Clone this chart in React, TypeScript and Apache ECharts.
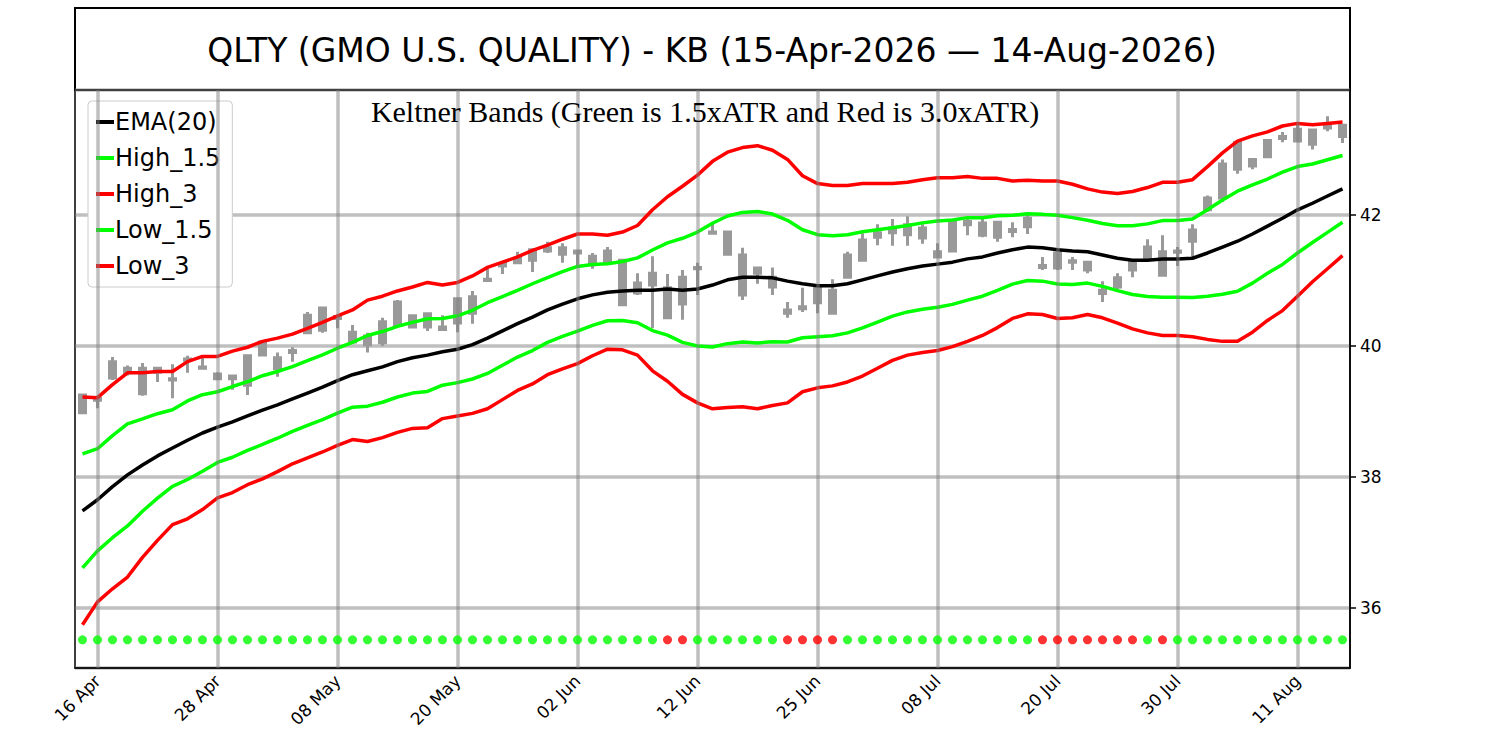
import { useRef, useEffect } from 'react';
import * as echarts from 'echarts';

const dates = [
  '15 Apr', '16 Apr', '17 Apr', '20 Apr', '21 Apr', '22 Apr', '23 Apr', '24 Apr', '27 Apr', '28 Apr', '29 Apr', '30 Apr',
  '01 May', '04 May', '05 May', '06 May', '07 May', '08 May', '11 May', '12 May', '13 May', '14 May', '15 May', '18 May',
  '19 May', '20 May', '21 May', '22 May', '26 May', '27 May', '28 May', '29 May',
  '01 Jun', '02 Jun', '03 Jun', '04 Jun', '05 Jun', '08 Jun', '09 Jun', '10 Jun', '11 Jun', '12 Jun', '15 Jun', '16 Jun',
  '17 Jun', '18 Jun', '22 Jun', '23 Jun', '24 Jun', '25 Jun', '26 Jun', '29 Jun', '30 Jun',
  '01 Jul', '02 Jul', '06 Jul', '07 Jul', '08 Jul', '09 Jul', '10 Jul', '13 Jul', '14 Jul', '15 Jul', '16 Jul', '17 Jul',
  '20 Jul', '21 Jul', '22 Jul', '23 Jul', '24 Jul', '27 Jul', '28 Jul', '29 Jul', '30 Jul', '31 Jul',
  '03 Aug', '04 Aug', '05 Aug', '06 Aug', '07 Aug', '10 Aug', '11 Aug', '12 Aug', '13 Aug', '14 Aug',
];

// [open, close, low, high]
const ohlc = [
  [39.25, 38.98, 38.96, 39.27], [39.2, 39.17, 39.05, 39.24], [39.51, 39.76, 39.48, 39.83], [39.59, 39.66, 39.55, 39.7],
  [39.66, 39.27, 39.24, 39.74], [39.66, 39.6, 39.45, 39.67], [39.5, 39.48, 39.2, 39.72], [39.8, 39.78, 39.59, 39.85],
  [39.68, 39.66, 39.65, 39.83], [39.57, 39.5, 39.48, 39.6], [39.54, 39.5, 39.33, 39.54], [39.4, 39.85, 39.25, 39.86],
  [39.86, 40.06, 39.84, 40.08], [39.82, 39.65, 39.53, 39.9], [39.93, 39.9, 39.76, 39.98], [40.2, 40.47, 40.19, 40.52],
  [40.24, 40.58, 40.2, 40.6], [40.45, 40.42, 40.27, 40.47], [40.21, 40.06, 40.05, 40.32], [40.15, 40.02, 39.9, 40.2],
  [40.05, 40.37, 40.0, 40.43], [40.32, 40.67, 40.3, 40.7], [40.46, 40.29, 40.28, 40.47], [40.29, 40.49, 40.23, 40.5],
  [40.29, 40.25, 40.24, 40.47], [40.35, 40.72, 40.21, 40.73], [40.5, 40.75, 40.34, 40.84], [41.02, 41.0, 41.0, 41.18],
  [41.26, 41.22, 41.1, 41.28], [41.27, 41.34, 41.25, 41.44], [41.47, 41.31, 41.13, 41.47], [41.45, 41.5, 41.42, 41.59],
  [41.4, 41.5, 41.27, 41.57], [41.45, 41.42, 41.19, 41.47], [41.37, 41.24, 41.18, 41.42], [41.27, 41.45, 41.24, 41.51],
  [41.31, 40.63, 40.61, 41.33], [40.81, 40.96, 40.78, 41.11], [40.93, 41.11, 40.27, 41.37], [40.89, 40.43, 40.42, 41.1],
  [40.64, 41.05, 40.4, 41.16], [41.2, 41.18, 40.78, 41.27], [41.74, 41.72, 41.72, 41.89], [41.74, 41.4, 41.4, 41.74],
  [41.39, 40.78, 40.7, 41.5], [41.19, 41.11, 40.95, 41.19], [41.05, 40.9, 40.78, 41.2], [40.55, 40.5, 40.43, 40.67],
  [40.6, 40.57, 40.52, 40.89], [40.66, 40.89, 40.5, 40.89], [40.5, 40.85, 40.5, 41.02], [41.05, 41.39, 41.05, 41.44],
  [41.31, 41.62, 41.31, 41.72], [41.66, 41.73, 41.54, 41.86], [41.73, 41.8, 41.53, 41.94], [41.7, 41.85, 41.53, 41.98],
  [41.8, 41.65, 41.56, 41.86], [41.44, 41.36, 41.34, 41.57], [41.45, 41.89, 41.44, 41.9], [41.9, 41.85, 41.69, 41.95],
  [41.69, 41.88, 41.66, 41.97], [41.89, 41.66, 41.59, 41.89], [41.78, 41.75, 41.66, 41.89], [41.82, 41.95, 41.71, 42.03],
  [41.23, 41.2, 41.16, 41.36], [41.42, 41.19, 41.16, 41.44], [41.3, 41.28, 41.16, 41.36], [41.28, 41.16, 41.11, 41.28],
  [40.85, 40.8, 40.67, 40.99], [40.9, 41.04, 40.87, 41.11], [41.16, 41.28, 41.05, 41.33], [41.33, 41.51, 41.31, 41.63],
  [41.44, 41.08, 41.08, 41.69], [41.45, 41.43, 41.22, 41.51], [41.6, 41.77, 41.33, 41.86], [42.08, 42.26, 42.05, 42.3],
  [42.26, 42.78, 42.2, 42.85], [42.7, 43.11, 42.63, 43.13], [42.85, 42.75, 42.7, 42.85], [42.89, 43.14, 42.89, 43.14],
  [43.2, 43.17, 43.11, 43.27], [43.13, 43.31, 43.11, 43.39], [43.3, 43.08, 43.0, 43.32], [43.38, 43.33, 43.28, 43.51],
  [43.37, 43.2, 43.1, 43.37],
];

const ema20 = [
  37.48, 37.65, 37.85, 38.03, 38.18, 38.32, 38.44, 38.56, 38.67, 38.76, 38.84, 38.93, 39.02, 39.1, 39.19, 39.28, 39.37,
  39.47, 39.56, 39.62, 39.68, 39.76, 39.82, 39.86, 39.91, 39.95, 40.02, 40.12, 40.23, 40.34, 40.44, 40.55, 40.64, 40.72,
  40.78, 40.82, 40.84, 40.85, 40.85, 40.87, 40.85, 40.87, 40.93, 41.01, 41.05, 41.05, 41.04, 40.99, 40.95, 40.92, 40.92,
  40.95, 41.01, 41.07, 41.13, 41.18, 41.22, 41.25, 41.28, 41.33, 41.36, 41.42, 41.47, 41.51, 41.5, 41.47, 41.45, 41.44,
  41.39, 41.34, 41.31, 41.31, 41.33, 41.33, 41.34, 41.42, 41.51, 41.6, 41.71, 41.83, 41.95, 42.08, 42.18, 42.29, 42.4,
];

const atr = [
  0.58, 0.52, 0.52, 0.52, 0.47, 0.43, 0.39, 0.4, 0.39, 0.36, 0.36, 0.35, 0.35, 0.34, 0.33, 0.33, 0.33, 0.33, 0.33, 0.36,
  0.36, 0.36, 0.36, 0.37, 0.34, 0.34, 0.35, 0.36, 0.35, 0.34, 0.34, 0.33, 0.33, 0.33, 0.31, 0.29, 0.3, 0.33, 0.41, 0.47,
  0.53, 0.58, 0.63, 0.65, 0.66, 0.67, 0.65, 0.62, 0.55, 0.52, 0.51, 0.5, 0.49, 0.47, 0.45, 0.44, 0.44, 0.44, 0.43, 0.42,
  0.4, 0.38, 0.35, 0.34, 0.34, 0.35, 0.34, 0.32, 0.32, 0.33, 0.35, 0.37, 0.39, 0.39, 0.4, 0.44, 0.48, 0.51, 0.5, 0.48,
  0.47, 0.44, 0.4, 0.37, 0.34,
];

// days whose signal dot is red; all others are green
const redDays = [39, 40, 47, 48, 49, 50, 64, 65, 66, 67, 68, 69, 70, 72];

const labelEvery = (i: number) => (i - 1) % 8 === 0;
const band = (k: number) => ema20.map((v, i) => +(v + k * atr[i]).toFixed(3));

const GREEN = '#00ff00';
const RED = '#ff0000';
const FONT = 'DejaVu Sans';

export default function App() {
  const ref = useRef<HTMLDivElement>(null);
  useEffect(() => {
    if (!ref.current) return;
    const chart = echarts.init(ref.current, undefined, { renderer: 'svg' });
    const lineSeries = (name: string, data: number[], color: string) => ({
      name,
      type: 'line',
      data,
      symbol: 'none',
      z: 4,
      lineStyle: { color, width: 3.5 },
      itemStyle: { color },
    });
    chart.setOption({
      animation: false,
      textStyle: { fontFamily: FONT },
      grid: { left: 75, right: 150, top: 90, bottom: 82, show: true, borderColor: '#000', borderWidth: 1.5 },
      graphic: [
        { type: 'rect', shape: { x: 75, y: 8, width: 1275, height: 82 }, style: { fill: 'none', stroke: '#000', lineWidth: 2 } },
        {
          type: 'text', x: 712, y: 50,
          style: { text: 'QLTY (GMO U.S. QUALITY) - KB (15-Apr-2026 — 14-Aug-2026)', font: `33px "${FONT}"`, fill: '#000', align: 'center', verticalAlign: 'middle' },
        },
        {
          type: 'text', x: 705, y: 111, z: 10,
          style: { text: 'Keltner Bands (Green is 1.5xATR and Red is 3.0xATR)', font: '30px "Liberation Serif"', fill: '#000', align: 'center', verticalAlign: 'middle' },
        },
      ],
      legend: {
        orient: 'vertical', left: 88, top: 101,
        data: ['EMA(20)', 'High_1.5', 'High_3', 'Low_1.5', 'Low_3'],
        icon: 'rect', itemWidth: 18, itemHeight: 4, itemGap: 12,
        padding: [9, 12, 9, 8],
        backgroundColor: '#fff', borderColor: '#ccc', borderWidth: 1, borderRadius: 4,
        textStyle: { fontSize: 24, color: '#000', fontFamily: FONT, padding: [0, 0, 0, -4] },
      },
      xAxis: {
        type: 'category',
        data: dates,
        axisLine: { lineStyle: { color: '#000', width: 1.5 } },
        axisTick: { alignWithLabel: true, interval: labelEvery, length: 6, lineStyle: { color: '#000', width: 1.5 } },
        axisLabel: { interval: labelEvery, rotate: 45, fontSize: 17, color: '#000', margin: 10 },
        splitLine: { show: false },
      },
      yAxis: {
        type: 'value',
        position: 'right',
        min: 35.08,
        max: 43.91,
        splitNumber: 4,
        axisLine: { show: true, lineStyle: { color: '#000', width: 1.5 } },
        axisTick: { show: true, length: 6, lineStyle: { color: '#000', width: 1.5 } },
        axisLabel: { fontSize: 17, color: '#000', showMinLabel: false, showMaxLabel: false, margin: 10 },
        splitLine: { lineStyle: { color: 'rgba(128,128,128,0.5)', width: 3.5 } },
      },
      series: [
        {
          name: 'grid',
          type: 'line',
          data: [],
          z: 1,
          silent: true,
          markLine: {
            silent: true,
            symbol: ['none', 'none'],
            label: { show: false },
            lineStyle: { color: 'rgba(128,128,128,0.5)', width: 3.5, type: 'solid' },
            data: dates.map((d, i) => (labelEvery(i) ? { xAxis: d } : null)).filter(Boolean),
          },
        },
        {
          name: 'price',
          type: 'candlestick',
          data: ohlc,
          barWidth: 6,
          z: 3,
          itemStyle: { color: '#999', color0: '#999', borderColor: '#999', borderColor0: '#999', borderWidth: 3 },
        },
        lineSeries('EMA(20)', ema20, '#000'),
        lineSeries('High_1.5', band(1.5), GREEN),
        lineSeries('High_3', band(3), RED),
        lineSeries('Low_1.5', band(-1.5), GREEN),
        lineSeries('Low_3', band(-3), RED),
        {
          name: 'signal',
          type: 'scatter',
          symbolSize: 9,
          z: 5,
          data: dates.map((_, i) => ({
            value: [i, 35.51],
            itemStyle: { color: redDays.includes(i) ? RED : GREEN },
          })),
        },
      ],
    });
    return () => chart.dispose();
  }, []);

  return <div ref={ref} style={{ position: 'fixed', left: 0, top: 0, width: 1500, height: 750, background: '#fff' }} />;
}
